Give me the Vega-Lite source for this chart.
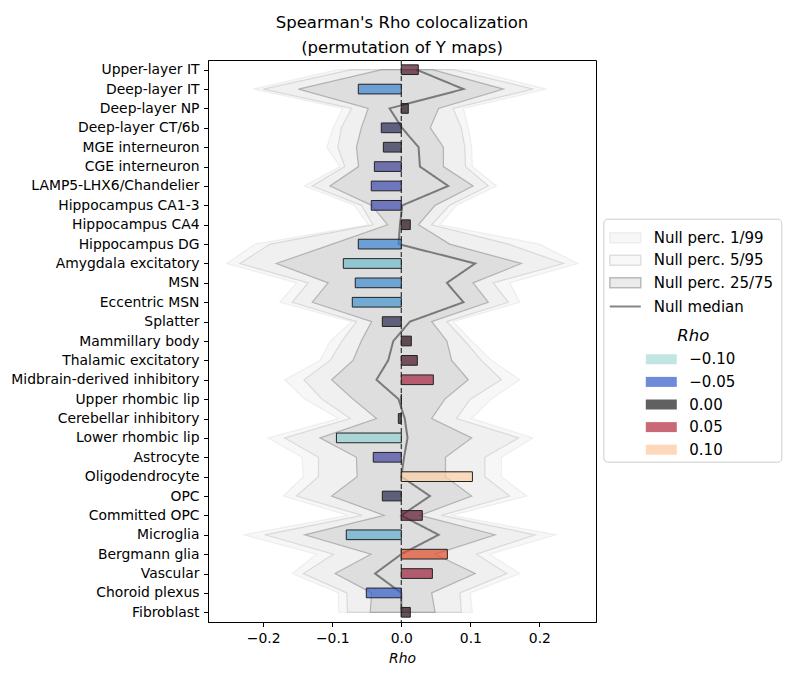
{
  "$schema": "https://vega.github.io/schema/vega-lite/v6.json",
  "width": 388,
  "height": 562,
  "autosize": {"type": "none"},
  "padding": {"left": 208, "top": 60, "right": 192, "bottom": 54},
  "background": "white",
  "title": {
    "text": "Spearman's Rho colocalization",
    "subtitle": "(permutation of Y maps)",
    "font": "DejaVu Sans",
    "fontSize": 16.5,
    "fontWeight": "normal",
    "color": "#000000",
    "subtitleFont": "DejaVu Sans",
    "subtitleFontSize": 16.5,
    "subtitleColor": "#000000",
    "subtitlePadding": 8,
    "anchor": "middle",
    "offset": 3
  },
  "config": {
    "font": "DejaVu Sans",
    "view": {"stroke": "#000000", "strokeWidth": 1},
    "axis": {
      "grid": false,
      "domainColor": "#000000",
      "tickColor": "#000000",
      "labelColor": "#000000",
      "titleColor": "#000000",
      "labelFont": "DejaVu Sans",
      "labelFontSize": 13.9,
      "titleFont": "DejaVu Sans",
      "titleFontSize": 13.9,
      "titleFontWeight": "normal",
      "tickSize": 4.5,
      "labelPadding": 4.5
    },
    "legend": {
      "labelFont": "DejaVu Sans",
      "titleFont": "DejaVu Sans",
      "labelColor": "#000000",
      "titleColor": "#000000"
    }
  },
  "data": {
    "values": [
      {"cell": "Upper-layer IT", "rho": 0.0246, "p1": -0.092, "p5": -0.072, "p25": -0.028, "median": 0.022, "p75": 0.045, "p95": 0.075, "p99": 0.098},
      {"cell": "Deep-layer IT", "rho": -0.0623, "p1": -0.2145, "p5": -0.2, "p25": -0.149, "median": 0.09, "p75": 0.148, "p95": 0.191, "p99": 0.21},
      {"cell": "Deep-layer NP", "rho": 0.0101, "p1": -0.085, "p5": -0.072, "p25": -0.048, "median": -0.017, "p75": 0.054, "p95": 0.075, "p99": 0.09},
      {"cell": "Deep-layer CT/6b", "rho": -0.029, "p1": -0.099, "p5": -0.087, "p25": -0.058, "median": 0.001, "p75": 0.042, "p95": 0.087, "p99": 0.097},
      {"cell": "MGE interneuron", "rho": -0.026, "p1": -0.108, "p5": -0.092, "p25": -0.065, "median": 0.025, "p75": 0.061, "p95": 0.092, "p99": 0.102},
      {"cell": "CGE interneuron", "rho": -0.039, "p1": -0.089, "p5": -0.082, "p25": -0.062, "median": 0.027, "p75": 0.061, "p95": 0.093, "p99": 0.103},
      {"cell": "LAMP5-LHX6/Chandelier", "rho": -0.0435, "p1": -0.1406, "p5": -0.129, "p25": -0.1034, "median": 0.068, "p75": 0.104, "p95": 0.126, "p99": 0.138},
      {"cell": "Hippocampus CA1-3", "rho": -0.0435, "p1": -0.068, "p5": -0.058, "p25": -0.043, "median": 0.0015, "p75": 0.049, "p95": 0.07, "p99": 0.08},
      {"cell": "Hippocampus CA4", "rho": 0.013, "p1": -0.048, "p5": -0.041, "p25": -0.02, "median": -0.002, "p75": 0.025, "p95": 0.044, "p99": 0.056},
      {"cell": "Hippocampus DG", "rho": -0.0623, "p1": -0.212, "p5": -0.19, "p25": -0.1, "median": -0.004, "p75": 0.07, "p95": 0.155, "p99": 0.2},
      {"cell": "Amygdala excitatory", "rho": -0.084, "p1": -0.253, "p5": -0.234, "p25": -0.181, "median": 0.107, "p75": 0.174, "p95": 0.235, "p99": 0.256},
      {"cell": "MSN", "rho": -0.0667, "p1": -0.152, "p5": -0.135, "p25": -0.106, "median": 0.066, "p75": 0.104, "p95": 0.133, "p99": 0.157},
      {"cell": "Eccentric MSN", "rho": -0.071, "p1": -0.176, "p5": -0.158, "p25": -0.129, "median": 0.09, "p75": 0.126, "p95": 0.155, "p99": 0.172},
      {"cell": "Splatter", "rho": -0.0275, "p1": -0.072, "p5": -0.065, "p25": -0.043, "median": 0.0125, "p75": 0.044, "p95": 0.066, "p99": 0.075},
      {"cell": "Mammillary body", "rho": 0.0145, "p1": -0.103, "p5": -0.086, "p25": -0.058, "median": -0.0116, "p75": 0.066, "p95": 0.092, "p99": 0.102},
      {"cell": "Thalamic excitatory", "rho": 0.0232, "p1": -0.118, "p5": -0.103, "p25": -0.07, "median": -0.019, "p75": 0.073, "p95": 0.116, "p99": 0.131},
      {"cell": "Midbrain-derived inhibitory", "rho": 0.0464, "p1": -0.169, "p5": -0.141, "p25": -0.101, "median": -0.036, "p75": 0.097, "p95": 0.145, "p99": 0.172},
      {"cell": "Upper rhombic lip", "rho": 0.0, "p1": -0.14, "p5": -0.115, "p25": -0.07, "median": -0.004, "p75": 0.063, "p95": 0.1, "p99": 0.13},
      {"cell": "Cerebellar inhibitory", "rho": -0.0043, "p1": -0.091, "p5": -0.074, "p25": -0.036, "median": 0.005, "p75": 0.044, "p95": 0.08, "p99": 0.102},
      {"cell": "Lower rhombic lip", "rho": -0.094, "p1": -0.193, "p5": -0.169, "p25": -0.118, "median": 0.009, "p75": 0.102, "p95": 0.17, "p99": 0.191},
      {"cell": "Astrocyte", "rho": -0.0406, "p1": -0.144, "p5": -0.12, "p25": -0.065, "median": 0.004, "p75": 0.064, "p95": 0.121, "p99": 0.145},
      {"cell": "Oligodendrocyte", "rho": 0.103, "p1": -0.142, "p5": -0.12, "p25": -0.064, "median": 0.0, "p75": 0.064, "p95": 0.121, "p99": 0.145},
      {"cell": "OPC", "rho": -0.0275, "p1": -0.171, "p5": -0.152, "p25": -0.101, "median": 0.0415, "p75": 0.102, "p95": 0.157, "p99": 0.182},
      {"cell": "Committed OPC", "rho": 0.0304, "p1": -0.077, "p5": -0.057, "p25": -0.025, "median": 0.0, "p75": 0.027, "p95": 0.058, "p99": 0.073},
      {"cell": "Microglia", "rho": -0.0797, "p1": -0.229, "p5": -0.198, "p25": -0.14, "median": 0.054, "p75": 0.136, "p95": 0.194, "p99": 0.225},
      {"cell": "Bergmann glia", "rho": 0.0667, "p1": -0.123, "p5": -0.0985, "p25": -0.044, "median": 0.0, "p75": 0.049, "p95": 0.109, "p99": 0.128},
      {"cell": "Vascular", "rho": 0.045, "p1": -0.158, "p5": -0.142, "p25": -0.096, "median": -0.038, "p75": 0.107, "p95": 0.153, "p99": 0.172},
      {"cell": "Choroid plexus", "rho": -0.0507, "p1": -0.091, "p5": -0.079, "p25": -0.043, "median": 0.0, "p75": 0.044, "p95": 0.085, "p99": 0.1},
      {"cell": "Fibroblast", "rho": 0.013, "p1": -0.091, "p5": -0.078, "p25": -0.045, "median": 0.0, "p75": 0.049, "p95": 0.087, "p99": 0.103}
    ]
  },
  "layer": [
    {
      "mark": {"type": "area", "orient": "horizontal", "strokeWidth": 1.2},
      "encoding": {
        "y": {"field": "cell", "type": "nominal", "sort": null, "title": null, "scale": {"type": "point", "padding": 0.5}, "axis": {"labelOverlap": false, "labelLimit": 400}},
        "x": {"field": "p1", "type": "quantitative", "title": "Rho", "scale": {"domain": [-0.28, 0.282], "nice": false, "zero": false}, "axis": {"values": [-0.2, -0.1, 0, 0.1, 0.2], "format": ".1f", "titleFontStyle": "italic", "titlePadding": 7, "labelFlush": false}},
        "x2": {"field": "p99"},
        "fill": {
          "datum": "Null perc. 1/99",
          "scale": {"domain": ["Null perc. 1/99", "Null perc. 5/95", "Null perc. 25/75"], "range": ["rgba(128,128,128,0.063)", "rgba(128,128,128,0.06)", "rgba(128,128,128,0.16)"]},
          "legend": {
            "orient": "none", "legendX": 395.3, "legendY": 158.7,
            "title": " ", "titleOrient": "bottom", "titleFontSize": 1, "titlePadding": 162,
            "padding": 8,
            "strokeColor": "#cccccc", "cornerRadius": 4,
            "symbolSize": 400, "symbolType": "M-1.25,-0.5H1.85V0.5H-1.25Z",
            "labelFontSize": 15, "labelOffset": 20.4, "rowPadding": 3.5
          }
        },
        "stroke": {
          "datum": "Null perc. 1/99",
          "scale": {"domain": ["Null perc. 1/99", "Null perc. 5/95", "Null perc. 25/75"], "range": ["rgba(128,128,128,0.1)", "rgba(128,128,128,0.22)", "rgba(128,128,128,0.5)"]}
        },
        "order": {"value": null}
      }
    },
    {
      "mark": {"type": "area", "orient": "horizontal", "strokeWidth": 1.2},
      "encoding": {
        "y": {"field": "cell", "type": "nominal", "sort": null, "title": null},
        "x": {"field": "p5", "type": "quantitative", "title": "Rho"},
        "x2": {"field": "p95"},
        "fill": {"datum": "Null perc. 5/95"},
        "stroke": {"datum": "Null perc. 5/95"},
        "order": {"value": null}
      }
    },
    {
      "mark": {"type": "area", "orient": "horizontal", "strokeWidth": 1.2},
      "encoding": {
        "y": {"field": "cell", "type": "nominal", "sort": null, "title": null},
        "x": {"field": "p25", "type": "quantitative", "title": "Rho"},
        "x2": {"field": "p75"},
        "fill": {"datum": "Null perc. 25/75"},
        "stroke": {"datum": "Null perc. 25/75"},
        "order": {"value": null}
      }
    },
    {
      "mark": {"type": "line", "strokeWidth": 2, "stroke": "rgba(80,80,80,0.7)"},
      "encoding": {
        "y": {"field": "cell", "type": "nominal", "sort": null, "title": null},
        "x": {"field": "median", "type": "quantitative", "title": "Rho"},
        "strokeDash": {
          "datum": "Null median",
          "scale": {"domain": ["Null median"], "range": [[1, 0]]},
          "legend": {
            "orient": "none", "legendX": 403.3, "legendY": 235.5,
            "title": null, "padding": 0,
            "symbolSize": 400, "symbolType": "M-1.25,0H1.85",
            "symbolStrokeColor": "#858585", "symbolStrokeWidth": 2,
            "labelFontSize": 15, "labelOffset": 20.4
          }
        },
        "order": {"value": null}
      }
    },
    {
      "data": {"values": [{"ref": 0}]},
      "mark": {"type": "rule", "stroke": "#333333", "strokeDash": [5, 3], "strokeWidth": 1.2},
      "encoding": {
        "x": {"field": "ref", "type": "quantitative", "title": "Rho"}
      }
    },
    {
      "mark": {"type": "bar", "height": 9.7, "stroke": "#222222", "strokeWidth": 1, "fillOpacity": 0.7},
      "encoding": {
        "y": {"field": "cell", "type": "nominal", "sort": null, "title": null},
        "x": {"field": "rho", "type": "quantitative", "title": "Rho"},
        "x2": {"datum": 0},
        "color": {
          "field": "rho",
          "type": "quantitative",
          "scale": {
            "type": "linear",
            "interpolate": "rgb",
            "domain": [-0.105, -0.09, -0.08, -0.07, -0.06, -0.05, -0.04, -0.03, -0.015, 0, 0.013, 0.025, 0.035, 0.046, 0.057, 0.067, 0.08, 0.09, 0.105],
            "range": ["#b5e2d8", "#8acdd2", "#63b0cd", "#4093cf", "#3a7fd2", "#3359cb", "#4545a0", "#2b2b59", "#222235", "#1c1c1c", "#250b14", "#4e1428", "#701a30", "#a62440", "#c8353a", "#e25029", "#f4855a", "#fba97a", "#ffd6ae"]
          },
          "legend": {
            "orient": "none", "legendX": 443.3, "legendY": 268,
            "type": "symbol",
            "values": [-0.1, -0.05, 0, 0.05, 0.1],
            "format": ".2f",
            "title": "Rho",
            "titleFontStyle": "italic",
            "titleFontWeight": "normal",
            "titleFontSize": 16.5,
            "titleAnchor": "middle",
            "titlePadding": 4.8,
            "padding": 0,
            "symbolSize": 400,
            "symbolType": "M-1.55,-0.5H1.55V0.5H-1.55Z",
            "symbolOpacity": 0.7,
            "symbolStrokeWidth": 0,
            "labelFontSize": 15,
            "labelOffset": 18,
            "rowPadding": 4.6
          }
        }
      }
    }
  ]
}
